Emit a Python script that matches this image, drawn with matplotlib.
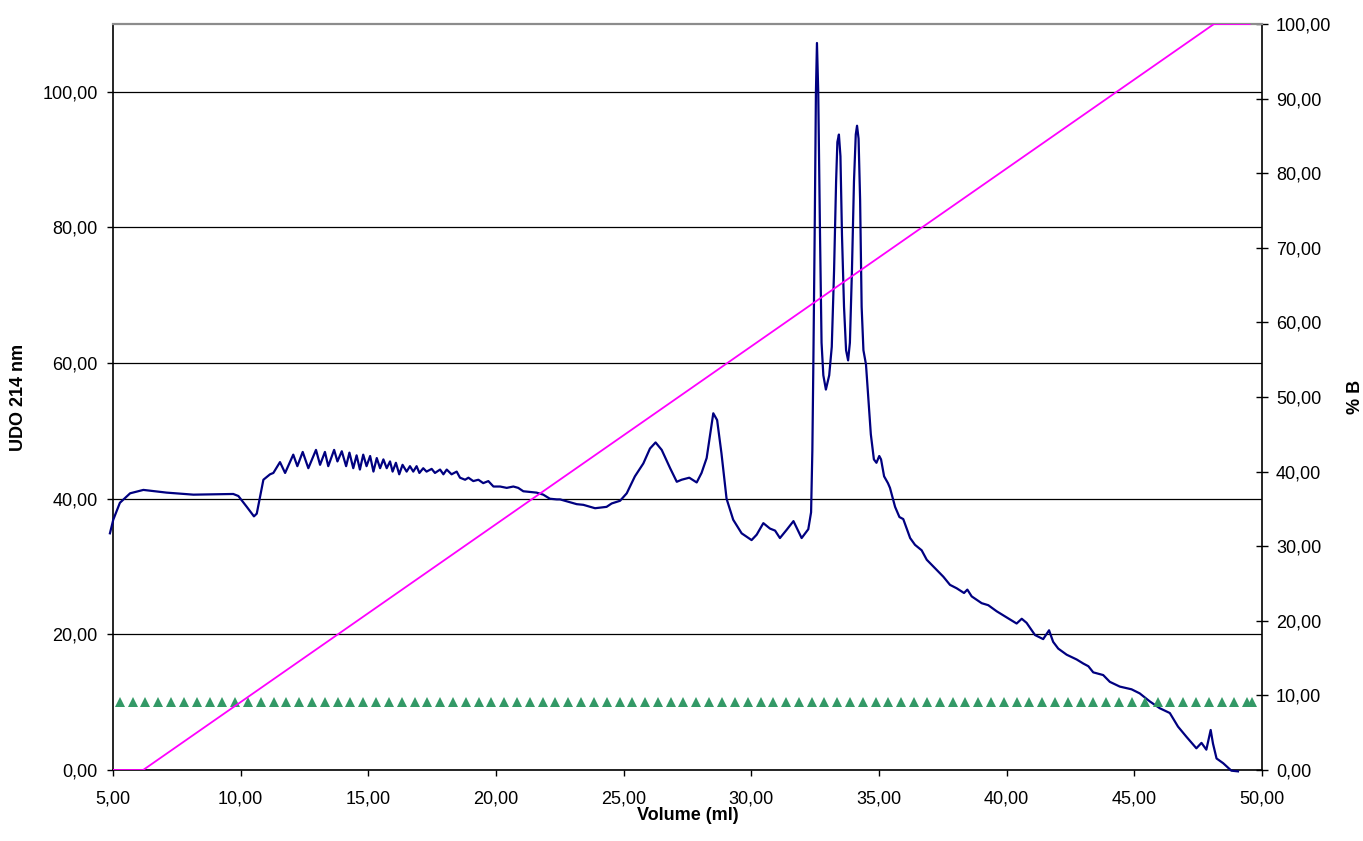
import matplotlib
matplotlib.use("Agg")
import matplotlib.pyplot as plt
from matplotlib.ticker import FuncFormatter, MultipleLocator

plt.rcParams["font.family"] = ["Liberation Sans", "DejaVu Sans"]

# UV absorbance trace at 214 nm (volume in ml, absorbance units)
uv_volume = [
    4.88, 5.01, 5.27, 5.67, 6.19, 7.10, 8.15, 9.71, 9.91, 10.24, 10.52, 10.63,
    10.76, 10.89, 11.15, 11.28, 11.54, 11.74, 12.06, 12.22, 12.43, 12.65, 12.95,
    13.11, 13.30, 13.43, 13.66, 13.79, 13.96, 14.13, 14.26, 14.41, 14.54, 14.67,
    14.80, 14.93, 15.07, 15.20, 15.33, 15.46, 15.59, 15.72, 15.85, 15.95, 16.08,
    16.21, 16.34, 16.50, 16.63, 16.76, 16.89, 17.00, 17.15, 17.28, 17.48, 17.61,
    17.81, 17.94, 18.07, 18.26, 18.46, 18.59, 18.79, 18.92, 19.11, 19.31, 19.50,
    19.70, 19.90, 20.16, 20.42, 20.68, 20.87, 21.07, 21.33, 21.59, 21.85, 22.11,
    22.38, 22.51, 23.16, 23.42, 23.88, 24.33, 24.53, 24.86, 25.12, 25.44, 25.77,
    26.03, 26.25, 26.49, 26.82, 27.08, 27.27, 27.57, 27.86, 28.05, 28.25, 28.51,
    28.66, 28.83, 29.03, 29.29, 29.62, 30.01, 30.21, 30.47, 30.73, 30.93, 31.12,
    31.38, 31.65, 31.97, 32.23, 32.34, 32.39, 32.43, 32.48, 32.53, 32.57, 32.62,
    32.69, 32.75, 32.82, 32.92, 33.05, 33.15, 33.24, 33.32, 33.37, 33.43, 33.49,
    33.55, 33.63, 33.71, 33.79, 33.86, 33.94, 34.02, 34.09, 34.14, 34.20, 34.26,
    34.32, 34.39, 34.49, 34.58, 34.68, 34.80, 34.90, 35.01, 35.08, 35.20, 35.35,
    35.43, 35.63, 35.80, 35.95, 36.22, 36.41, 36.67, 36.87, 37.26, 37.52, 37.78,
    38.04, 38.33, 38.46, 38.63, 39.02, 39.28, 39.61, 40.00, 40.39, 40.59, 40.78,
    41.11, 41.43, 41.66, 41.82, 42.02, 42.35, 42.74, 43.00, 43.20, 43.39, 43.78,
    44.04, 44.43, 44.89, 45.21, 45.61, 46.00, 46.39, 46.71, 47.04, 47.43, 47.63,
    47.82, 47.99, 48.08, 48.22, 48.48, 48.80, 49.06,
]
uv_abs = [
    34.9, 36.9, 39.4, 40.8, 41.3, 40.9, 40.6, 40.7, 40.4, 38.8, 37.4, 37.8,
    40.3, 42.8, 43.6, 43.8, 45.4, 43.8, 46.5, 44.8, 46.9, 44.5, 47.2,
    45.0, 46.9, 44.8, 47.2, 45.5, 47.0, 44.8, 46.8, 44.5, 46.4, 44.3,
    46.5, 44.8, 46.3, 44.0, 46.0, 44.5, 45.8, 44.5, 45.5, 44.0, 45.3,
    43.6, 45.0, 44.0, 44.8, 44.0, 44.8, 43.8, 44.5, 44.0, 44.4, 43.8,
    44.3, 43.6, 44.3, 43.6, 44.0, 43.1, 42.8, 43.1, 42.6, 42.8, 42.3,
    42.6, 41.8, 41.8, 41.6, 41.8, 41.6, 41.1, 41.0, 40.9, 40.6, 40.0,
    39.9, 39.9, 39.2, 39.1, 38.6, 38.8, 39.3, 39.7, 40.8, 43.3, 45.2,
    47.4, 48.3, 47.2, 44.5, 42.5, 42.8, 43.1, 42.4, 43.8, 46.0, 52.6,
    51.6, 46.7, 40.0, 36.9, 34.9, 33.9, 34.7, 36.4, 35.6, 35.3, 34.2,
    35.4, 36.7, 34.2, 35.5, 38.0, 47.1, 60.3, 78.9, 100.0, 107.2, 100.0,
    78.9, 63.0, 58.2, 56.1, 58.2, 62.4, 73.6, 86.8, 92.6, 93.7, 90.5,
    78.9, 68.3, 61.9, 60.4, 63.0, 73.6, 86.8, 93.7, 95.0, 93.1, 84.1,
    68.3, 61.9, 59.8, 55.0, 49.5, 45.8, 45.3, 46.3, 45.8, 43.3, 42.3,
    41.6, 38.8, 37.3, 37.0, 34.2, 33.2, 32.4, 31.0, 29.5, 28.5, 27.3,
    26.8, 26.1, 26.6, 25.6, 24.6, 24.3, 23.4, 22.5, 21.6, 22.3, 21.7,
    19.9, 19.3, 20.6, 18.9, 17.9, 17.0, 16.3, 15.7, 15.3, 14.4, 14.0,
    13.0, 12.3, 11.9, 11.3, 10.1, 9.1, 8.4, 6.4, 4.9, 3.2, 4.0,
    3.0, 5.9, 3.9, 1.7, 1.0, -0.1, -0.2,
]

# Gradient programme (% B)
gradient_volume = [5.00, 6.18, 48.12, 49.52]
gradient_pct_b = [0.0, 0.0, 100.0, 100.0]

# Fraction collector marks
fraction_volume = [
    5.27, 5.77, 6.27, 6.78, 7.28, 7.78, 8.28, 8.78, 9.28, 9.79, 10.29, 10.79,
    11.29, 11.79, 12.29, 12.80, 13.30, 13.80, 14.30, 14.80, 15.30, 15.81, 16.31,
    16.81, 17.31, 17.81, 18.31, 18.82, 19.32, 19.82, 20.32, 20.82, 21.32, 21.83,
    22.33, 22.83, 23.33, 23.83, 24.33, 24.84, 25.34, 25.84, 26.34, 26.84, 27.34,
    27.85, 28.35, 28.85, 29.35, 29.85, 30.36, 30.86, 31.36, 31.86, 32.36, 32.86,
    33.37, 33.87, 34.37, 34.87, 35.37, 35.87, 36.38, 36.88, 37.38, 37.88, 38.38,
    38.88, 39.39, 39.89, 40.39, 40.89, 41.39, 41.89, 42.40, 42.90, 43.40, 43.90,
    44.40, 44.90, 45.41, 45.91, 46.41, 46.91, 47.41, 47.91, 48.42, 48.92, 49.42,
    49.61,
]
fraction_level = 10.0

x_ticks = [5, 10, 15, 20, 25, 30, 35, 40, 45, 50]

W, H = 1363, 841
fig = plt.figure(figsize=(W / 100, H / 100), dpi=100)
fig.patch.set_facecolor("white")
ax = fig.add_axes([113 / W, (H - 770) / H, 1149 / W, 746 / H])
ax2 = ax.twinx()

comma = FuncFormatter(lambda v, _: f"{v:.2f}".replace(".", ","))
FS = 13

# primary axis: absorbance
ax.set_xlim(5, 50)
ax.set_ylim(0, 110)
ax.set_xticks(x_ticks)
ax.yaxis.set_major_locator(MultipleLocator(20))
ax.xaxis.set_major_formatter(comma)
ax.yaxis.set_major_formatter(comma)
ax.yaxis.grid(True, color="black", linewidth=0.9)
ax.set_axisbelow(True)
ax.tick_params(axis="y", direction="out", length=4.5, width=1, pad=6.5,
               labelsize=FS, colors="black")
ax.tick_params(axis="x", direction="out", length=4, width=1, pad=11,
               labelsize=FS, colors="black")

ax.plot(uv_volume, uv_abs, color="#000080", linewidth=1.6, zorder=3,
        clip_on=False)
ax.plot(fraction_volume, [fraction_level] * len(fraction_volume),
        linestyle="none", marker="^", markersize=6.5, color="#339966",
        markeredgewidth=0, zorder=4)

for side in ("top", "right"):
    ax.spines[side].set_visible(False)
for side in ("left", "bottom"):
    ax.spines[side].set_color("black")
    ax.spines[side].set_linewidth(1.2)

# secondary axis: gradient
ax2.set_ylim(0, 100)
ax2.yaxis.set_major_locator(MultipleLocator(10))
ax2.yaxis.set_major_formatter(comma)
ax2.tick_params(axis="y", direction="inout", length=9, width=1, pad=5.5,
                labelsize=FS, colors="black")
ax2.plot(gradient_volume, gradient_pct_b, color="#FF00FF", linewidth=1.3,
         zorder=5)
for side in ("left", "bottom"):
    ax2.spines[side].set_visible(False)
ax2.spines["right"].set_color("black")
ax2.spines["right"].set_linewidth(1.2)
ax2.spines["top"].set_color("#8c8c8c")
ax2.spines["top"].set_linewidth(1.6)

# axis titles
fig.text(687.5 / W, 1 - 815 / H, "Volume (ml)", ha="center", va="center",
         fontsize=FS, fontweight="bold")
fig.text(19 / W, 1 - 397 / H, "UDO 214 nm", ha="center", va="center",
         rotation=90, fontsize=FS, fontweight="bold")
fig.text(1355 / W, 1 - 397 / H, "% B", ha="center", va="center",
         rotation=90, fontsize=FS, fontweight="bold")

fig.savefig("out.png", dpi=100, facecolor="white")
